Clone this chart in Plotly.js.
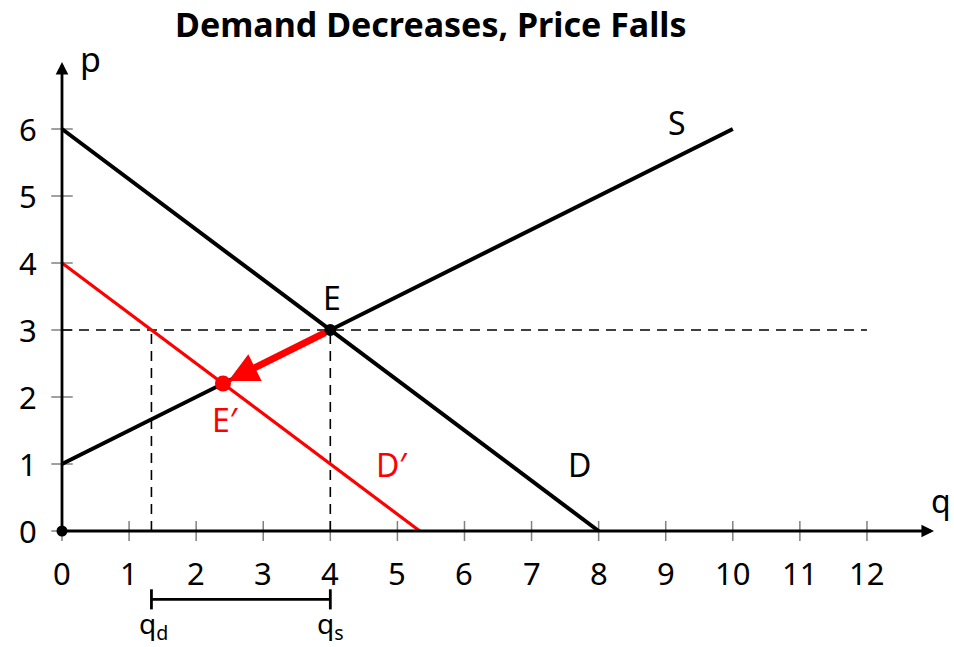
<!DOCTYPE html>
<html>
<head>
<meta charset="utf-8">
<script src="https://cdn.plot.ly/plotly-3.0.1.min.js"></script>
<style>html,body{margin:0;padding:0;background:#fff;}#chart{width:954px;height:647px;}</style>
</head>
<body>
<div id="chart"></div>
<script>
// ---- data ----
const demandQ = [0, 8];
const demandP = [6, 0];
const supplyQ = [0, 10];
const supplyP = [1, 6];
const newDemandQ = [0, 16/3];
const newDemandP = [4, 0];
const eqE = {q: 4, p: 3};
const eqE2 = {q: 2.4, p: 2.2};
const qd = 4/3;
const xTicks = [0,1,2,3,4,5,6,7,8,9,10,11,12];
const yTicks = [0,1,2,3,4,5,6];
const xAxisEnd = 13;
const yAxisEnd = 7;
const dashedEnd = 12;
const bracketP = -1.02;

const FONT = "Noto Sans, Open Sans, DejaVu Sans, sans-serif";
const xr = [-62/67.08, -62/67.08 + 954/67.08];
const yr = [-116/67, 531/67];
const DASH = '10px,7px';

const traces = [
  {x: [0, dashedEnd], y: [eqE.p, eqE.p], mode:'lines', line:{color:'black', width:1.6, dash:DASH}},
  {x: [eqE.q, eqE.q], y: [0, eqE.p], mode:'lines', line:{color:'black', width:1.6, dash:DASH}},
  {x: [qd, qd], y: [0, eqE.p], mode:'lines', line:{color:'black', width:1.6, dash:DASH}},
  {x: demandQ, y: demandP, mode:'lines', line:{color:'black', width:4}},
  {x: supplyQ, y: supplyP, mode:'lines', line:{color:'black', width:4}},
  {x: newDemandQ, y: newDemandP, mode:'lines', line:{color:'#ff0000', width:3.2}},
  // bracket
  {x: [qd, eqE.q], y: [bracketP, bracketP], mode:'lines', line:{color:'black', width:2.8}},
  {x: [qd, qd], y: [bracketP-0.15, bracketP+0.15], mode:'lines', line:{color:'black', width:2.8}},
  {x: [eqE.q, eqE.q], y: [bracketP-0.15, bracketP+0.15], mode:'lines', line:{color:'black', width:2.8}},
];

const shapes = [];
xTicks.forEach(t => shapes.push({type:'line', xref:'x', yref:'y', x0:t, x1:t, y0:-0.15, y1:0.15, line:{color:'#808080', width:1.5}, layer:'below'}));
yTicks.forEach(t => shapes.push({type:'line', xref:'x', yref:'y', x0:-0.16, x1:0.16, y0:t, y1:t, line:{color:'#808080', width:1.5}, layer:'below'}));

const annotations = [];
xTicks.forEach(t => annotations.push({x:t, y:-0.62, xref:'x', yref:'y', text:String(t), showarrow:false, font:{size:31, color:'black', family:FONT}}));
yTicks.forEach(t => annotations.push({x:-0.5, y:t, xref:'x', yref:'y', text:String(t), showarrow:false, font:{size:31, color:'black', family:FONT}}));

// axes with arrows
annotations.push({x:xAxisEnd, y:0, ax:0, ay:0, xref:'x', yref:'y', axref:'x', ayref:'y', text:'', showarrow:true, arrowhead:2, arrowwidth:2.8, arrowsize:0.9, arrowcolor:'black'});
annotations.push({x:0, y:yAxisEnd, ax:0, ay:0, xref:'x', yref:'y', axref:'x', ayref:'y', text:'', showarrow:true, arrowhead:2, arrowwidth:2.8, arrowsize:0.9, arrowcolor:'black'});
// red shift arrow
annotations.push({x:eqE2.q, y:eqE2.p, ax:eqE.q, ay:eqE.p, xref:'x', yref:'y', axref:'x', ayref:'y', text:'', showarrow:true, arrowhead:2, arrowwidth:7, arrowsize:0.85, arrowcolor:'#ff0000', standoff:6, startstandoff:4});

const lab = (x,y,text,color,size) => annotations.push({x, y, xref:'x', yref:'y', text, showarrow:false, font:{size:size||32, color:color||'black', family:FONT}});
lab(0.42, 7.05, 'p', 'black', 34);
lab(13.1, 0.46, 'q', 'black', 32);
lab(9.17, 6.09, 'S');
lab(4.02, 3.49, 'E');
lab(2.44, 1.66, 'E′', '#ff0000');
lab(4.92, 0.99, 'D′', '#ff0000');
lab(7.72, 0.99, 'D');
lab(1.36, -1.41, 'q<sub>d</sub>', 'black', 28);
lab(4.0, -1.41, 'q<sub>s</sub>', 'black', 28);
annotations.push({x:5.5, y:7.56, xref:'x', yref:'y', text:'<b>Demand Decreases, Price Falls</b>', showarrow:false, font:{size:34, color:'black', family:FONT}});

traces.push({x:[0], y:[0], mode:'markers', marker:{color:'black', size:11}});
traces.push({x:[eqE.q], y:[eqE.p], mode:'markers', marker:{color:'black', size:12}});
traces.push({x:[eqE2.q], y:[eqE2.p], mode:'markers', marker:{color:'#ff0000', size:16}});

const layout = {
  width:954, height:647,
  margin:{l:0, r:0, t:0, b:0},
  showlegend:false,
  paper_bgcolor:'white', plot_bgcolor:'white',
  xaxis:{range:xr, visible:false, fixedrange:true},
  yaxis:{range:yr, visible:false, fixedrange:true},
  shapes, annotations
};
traces.forEach(t => { t.hoverinfo='skip'; t.cliponaxis=false; });
Plotly.newPlot('chart', traces, layout, {staticPlot:true});
</script>
</body>
</html>
